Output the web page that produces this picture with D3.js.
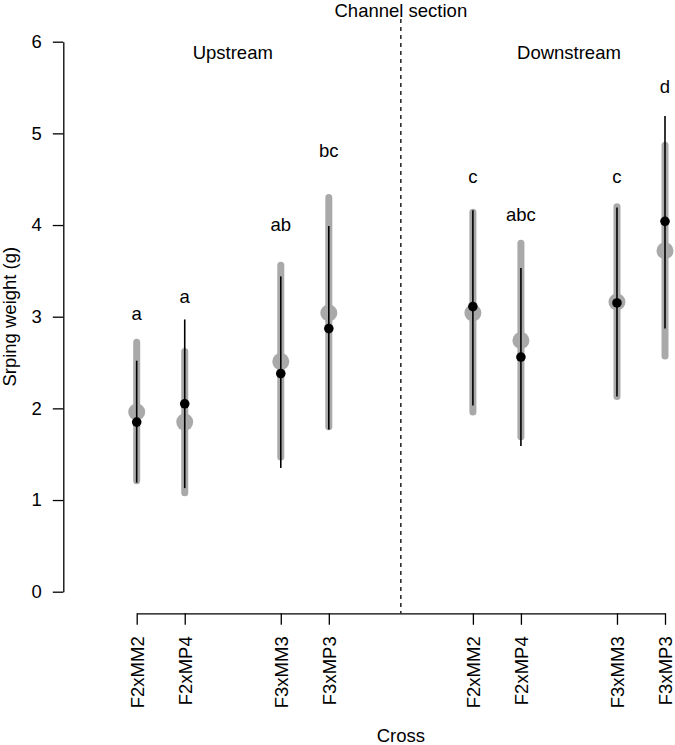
<!DOCTYPE html>
<html>
<head>
<meta charset="utf-8">
<script src="https://cdn.jsdelivr.net/npm/d3@7"></script>
<style>
  html, body { margin: 0; padding: 0; background: #fff; }
  svg { display: block; }
  text { font-family: "Liberation Sans", Arial, sans-serif; fill: #000; }
</style>
</head>
<body>
<svg id="chart" width="675" height="745"></svg>
<script>
// ---- data ----
const sections = ["Upstream", "Downstream"];
const crosses = ["F2xMM2", "F2xMP4", "F3xMM3", "F3xMP3"];
// grey series (thick grey range + large grey point)
const greyLow  = [1.21, 1.08, 1.47, 1.80,   1.96, 1.69, 2.13, 2.57];
const greyMean = [1.96, 1.85, 2.51, 3.04,   3.04, 2.74, 3.16, 3.72];
const greyHigh = [2.72, 2.62, 3.56, 4.30,   4.14, 3.80, 4.20, 4.87];
// black series (thin black range + small black point)
const blackLow  = [1.19, 1.13, 1.35, 1.77,  2.03, 1.59, 2.13, 2.87];
const blackMean = [1.85, 2.05, 2.38, 2.87,  3.11, 2.56, 3.15, 4.04];
const blackHigh = [2.52, 2.97, 3.44, 3.99,  4.16, 3.53, 4.19, 5.19];
// significance letters and their heights (data units)
const letters  = ["a", "a", "ab", "bc",  "c", "abc", "c", "d"];
const letterY  = [2.96, 3.15, 3.94, 4.74, 4.46, 4.04, 4.46, 5.44];
const yTicks = [0, 1, 2, 3, 4, 5, 6];

// ---- build records ----
const records = [];
sections.forEach((s, si) => {
  crosses.forEach((c, ci) => {
    const i = si * crosses.length + ci;
    records.push({
      section: s, cross: c, si, ci,
      slot: si * 7 + ci + (ci >= 2 ? 1 : 0),
      gLo: greyLow[i], gM: greyMean[i], gHi: greyHigh[i],
      bLo: blackLow[i], bM: blackMean[i], bHi: blackHigh[i],
      letter: letters[i], ly: letterY[i]
    });
  });
});

const svg = d3.select("#chart");
const FS = "18.5px";

const x = d3.scaleLinear().domain([0, 11]).range([136.7, 665]);
const y = d3.scaleLinear().domain([0, 6]).range([591.7, 41.7]);

// y axis
const yAxis = svg.append("g")
  .attr("transform", "translate(63.3,0)")
  .call(d3.axisLeft(y).tickValues(yTicks).tickFormat(d3.format("d"))
        .tickSize(10.5).tickSizeOuter(0).tickPadding(11));
yAxis.selectAll("path,line").attr("stroke", "#000").attr("stroke-width", 1.3);
yAxis.selectAll("text").style("font-size", FS).style("font-family", "Liberation Sans, Arial, sans-serif");

// x axis
const xAxisY = 613.3;
const xAxis = svg.append("g")
  .attr("transform", `translate(0,${xAxisY})`)
  .call(d3.axisBottom(x).tickValues(records.map(d => d.slot))
        .tickFormat((d, i) => records[i].cross)
        .tickSize(11.5).tickSizeOuter(0));
xAxis.selectAll("path,line").attr("stroke", "#000").attr("stroke-width", 1.3);
xAxis.selectAll("text")
  .style("font-size", FS).style("font-family", "Liberation Sans, Arial, sans-serif")
  .style("text-anchor", "end")
  .attr("transform", "rotate(-90)")
  .attr("x", -23).attr("y", 0).attr("dy", "0.35em");

// dashed divider
const midSlot = 5.5;
svg.append("line")
  .attr("x1", x(midSlot)).attr("x2", x(midSlot))
  .attr("y1", 19).attr("y2", xAxisY)
  .attr("stroke", "#000").attr("stroke-width", 1.3)
  .attr("stroke-dasharray", "4,4");

// section labels
const sectionCenters = [2, 9];
svg.selectAll("text.section")
  .data(sections).join("text")
  .attr("class", "section")
  .attr("x", (d, i) => x(sectionCenters[i]))
  .attr("y", 59.3)
  .attr("text-anchor", "middle")
  .style("font-size", FS)
  .text(d => d);

// top title
svg.append("text")
  .attr("x", x(midSlot)).attr("y", 16.5)
  .attr("text-anchor", "middle").style("font-size", FS)
  .text("Channel section");

// axis titles
svg.append("text")
  .attr("transform", `translate(16,${(y(0) + y(6)) / 2}) rotate(-90)`)
  .attr("text-anchor", "middle").style("font-size", FS)
  .text("Srping weight (g)");
svg.append("text")
  .attr("x", x(midSlot)).attr("y", 741.5)
  .attr("text-anchor", "middle").style("font-size", FS)
  .text("Cross");

// marks
const grey = "#a9a9a9";
const g = svg.append("g");
g.selectAll("line.grey").data(records).join("line")
  .attr("class", "grey")
  .attr("x1", d => x(d.slot)).attr("x2", d => x(d.slot))
  .attr("y1", d => y(d.gLo)).attr("y2", d => y(d.gHi))
  .attr("stroke", grey).attr("stroke-width", 7).attr("stroke-linecap", "round");
g.selectAll("circle.grey").data(records).join("circle")
  .attr("class", "grey")
  .attr("cx", d => x(d.slot)).attr("cy", d => y(d.gM)).attr("r", 8.5)
  .attr("fill", grey);
g.selectAll("line.black").data(records).join("line")
  .attr("class", "black")
  .attr("x1", d => x(d.slot)).attr("x2", d => x(d.slot))
  .attr("y1", d => y(d.bLo)).attr("y2", d => y(d.bHi))
  .attr("stroke", "#000").attr("stroke-width", 1.6);
g.selectAll("circle.black").data(records).join("circle")
  .attr("class", "black")
  .attr("cx", d => x(d.slot)).attr("cy", d => y(d.bM)).attr("r", 4.8)
  .attr("fill", "#000");

// letters
g.selectAll("text.letter").data(records).join("text")
  .attr("class", "letter")
  .attr("x", d => x(d.slot)).attr("y", d => y(d.ly))
  .attr("text-anchor", "middle").style("font-size", FS)
  .text(d => d.letter);
</script>
</body>
</html>
